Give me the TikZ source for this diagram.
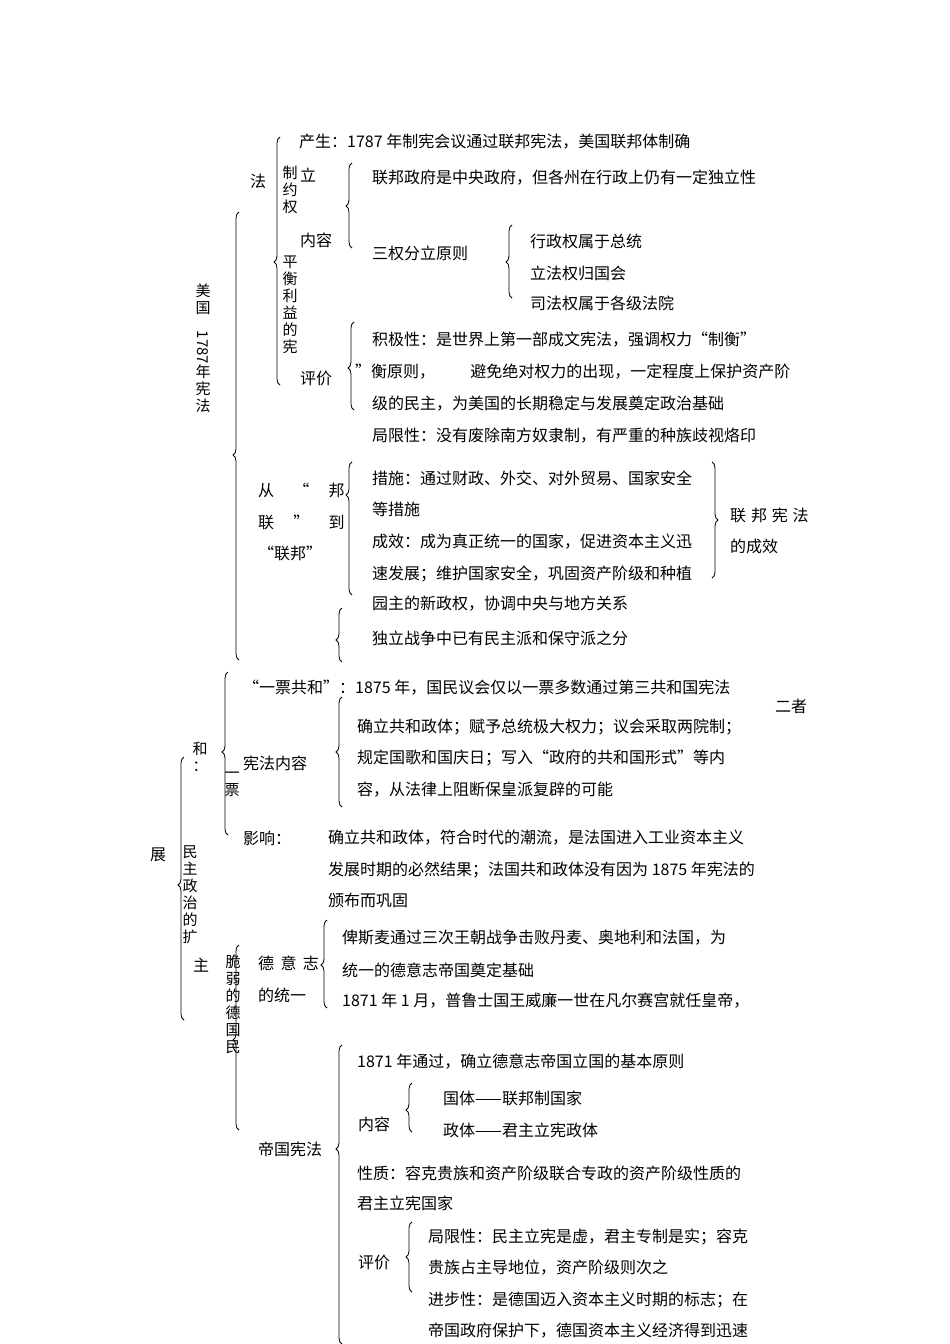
\documentclass[tikz,border=0pt]{standalone}
\usepackage{fontspec}
\setmainfont{Noto Sans CJK SC}
\usetikzlibrary{decorations.pathreplacing}
\newcommand\LB[4]{\pgfmathsetmacro\asp{((#3)-(#4))/((#3)-(#2))}\draw[brc,decoration={brace,amplitude=6pt,aspect=\asp}] (#1,#3) -- (#1,#2);}
\newcommand\RB[4]{\pgfmathsetmacro\asp{((#4)-(#2))/((#3)-(#2))}\draw[brc,decoration={brace,amplitude=6pt,aspect=\asp}] (#1,#2) -- (#1,#3);}
\tikzset{
 brc/.style={decorate,line width=0.8pt},
 tx/.style={anchor=west,inner sep=0pt,font=\fontsize{16pt}{17pt}\selectfont},
 vt/.style={anchor=north,inner sep=0pt,align=center,font=\fontsize{15pt}{17pt}\selectfont}
}
\begin{document}
\begin{tikzpicture}[x=1pt,y=-1pt]
\useasboundingbox (0,0) rectangle (950,1344);
% ===== US constitution =====
\node[tx] (a1) at (299,142) {产生：1787 年制宪会议通过联邦宪法，美国联邦体制确};
\node[tx] (a2) at (250,181) {法};
\node[tx] (a3) at (300,175) {立};
\node[vt] (a4) at (290,166) {制\\约\\权};
\node[vt] (a5) at (290,256) {平\\衡\\利\\益\\的\\宪};
\LB{280}{137}{385}{262}
\node[tx] (a6) at (300,240) {内容};
\LB{352}{163}{248}{206}
\node[tx] (a7) at (372,178) {联邦政府是中央政府，但各州在行政上仍有一定独立性};
\node[tx] (a8) at (372,253) {三权分立原则};
\LB{512}{225}{298}{262}
\node[tx] (a9) at (530,241) {行政权属于总统};
\node[tx] (a10) at (530,273) {立法权归国会};
\node[tx] (a11) at (530,303) {司法权属于各级法院};
\node[tx] (a12) at (300,378) {评价};
\LB{354}{322}{410}{368}
\node[tx] (a13) at (372,340) {积极性：是世界上第一部成文宪法，强调权力“制衡”};
\node[tx] (a14) at (355,372) {”衡原则，\hspace{2.2em}避免绝对权力的出现，一定程度上保护资产阶};
\node[tx] (a15) at (372,404) {级的民主，为美国的长期稳定与发展奠定政治基础};
\node[tx] (a16) at (372,436) {局限性：没有废除南方奴隶制，有严重的种族歧视烙印};
\node[vt] (a17) at (203,284) {美\\国\\\rotatebox{-90}{1787}\\年\\宪\\法};
\LB{239}{212}{660}{455}
\node[tx] (b1) at (258,490) {从\hspace{1.2em}“\hspace{1.2em}邦};
\node[tx] (b2) at (258,522) {联\hspace{1.2em}”\hspace{1.2em}到};
\node[tx] (b3) at (258,553) {“联邦”};
\LB{352}{462}{595}{495}
\node[tx] (b4) at (372,478) {措施：通过财政、外交、对外贸易、国家安全};
\node[tx] (b5) at (372,509) {等措施};
\node[tx] (b6) at (372,542) {成效：成为真正统一的国家，促进资本主义迅};
\node[tx] (b7) at (372,574) {速发展；维护国家安全，巩固资产阶级和种植};
\node[tx] (b8) at (372,604) {园主的新政权，协调中央与地方关系};
\RB{712}{462}{578}{520}
\node[tx] (b9) at (730,515) {联\hspace{0.3em}邦\hspace{0.3em}宪\hspace{0.3em}法};
\node[tx] (b10) at (730,546) {的成效};
\LB{342}{608}{662}{640}
\node[tx] (b11) at (372,638) {独立战争中已有民主派和保守派之分};
% ===== France =====
\LB{228}{672}{835}{752}
\node[tx] (c1) at (243,688) {“一票共和”：1875 年，国民议会仅以一票多数通过第三共和国宪法};
\node[tx] (c2) at (775,706) {二者};
\node[vt] (c3) at (200,742) {和\\：};
\node[tx] (c4) at (243,763) {宪法内容};
\LB{342}{697}{807}{752}
\node[tx] (c5) at (357,727) {确立共和政体；赋予总统极大权力；议会采取两院制；};
\node[tx] (c6) at (357,758) {规定国歌和国庆日；写入“政府的共和国形式”等内};
\node[tx] (c7) at (357,790) {容，从法律上阻断保皇派复辟的可能};
\node[vt] (c8) at (232,772) {一\\票};
\node[tx] (c9) at (243,838) {影响：};
\node[tx] (c10) at (328,838) {确立共和政体，符合时代的潮流，是法国进入工业资本主义};
\node[tx] (c11) at (328,870) {发展时期的必然结果；法国共和政体没有因为 1875 年宪法的};
\node[tx] (c12) at (328,900) {颁布而巩固};
\node[tx] (c13) at (150,855) {展};
\LB{184}{757}{1020}{885}
\node[vt] (c14) at (190,845) {民\\主\\政\\治\\的\\扩};
% ===== Germany =====
\node[tx] (d1) at (193,965) {主};
\node[vt] (d2) at (233,955) {脆\\弱\\的\\德\\国\\民};
\LB{239}{945}{1130}{1040}
\node[tx] (d3) at (258,963) {德\hspace{0.4em}意\hspace{0.4em}志};
\node[tx] (d4) at (258,995) {的统一};
\LB{327}{920}{1008}{965}
\node[tx] (d5) at (342,938) {俾斯麦通过三次王朝战争击败丹麦、奥地利和法国，为};
\node[tx] (d6) at (342,970) {统一的德意志帝国奠定基础};
\node[tx] (d7) at (342,1001) {1871 年 1 月，普鲁士国王威廉一世在凡尔赛宫就任皇帝，};
\node[tx] (d8) at (258,1149) {帝国宪法};
\LB{342}{1045}{1344}{1149}
\node[tx] (d9) at (357,1062) {1871 年通过，确立德意志帝国立国的基本原则};
\node[tx] (d10) at (358,1124) {内容};
\LB{412}{1083}{1132}{1110}
\node[tx] (d11) at (443,1098) {国体——联邦制国家};
\node[tx] (d12) at (443,1130) {政体——君主立宪政体};
\node[tx] (d13) at (357,1173) {性质：容克贵族和资产阶级联合专政的资产阶级性质的};
\node[tx] (d14) at (357,1203) {君主立宪国家};
\node[tx] (d15) at (358,1262) {评价};
\LB{412}{1222}{1292}{1257}
\node[tx] (d16) at (428,1237) {局限性：民主立宪是虚，君主专制是实；容克};
\node[tx] (d17) at (428,1268) {贵族占主导地位，资产阶级则次之};
\node[tx] (d18) at (428,1300) {进步性：是德国迈入资本主义时期的标志；在};
\node[tx] (d19) at (428,1331) {帝国政府保护下，德国资本主义经济得到迅速};
\end{tikzpicture}
\end{document}
